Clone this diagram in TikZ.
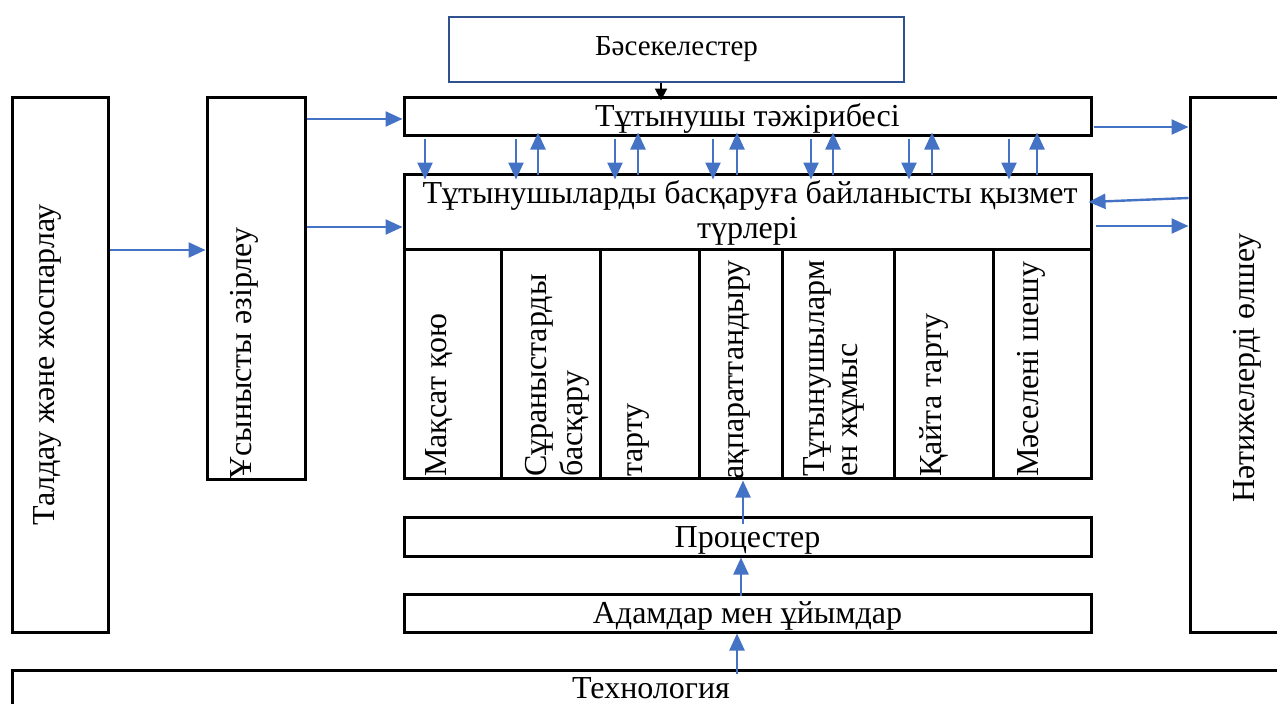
\documentclass[tikz,border=0pt]{standalone}
\usepackage{fontspec}
\setmainfont{Liberation Serif}
\usetikzlibrary{arrows.meta}
\definecolor{ablue}{HTML}{4472C4}
\definecolor{bdark}{HTML}{2F528F}
\begin{document}
\begin{tikzpicture}[x=1pt,y=-1pt,
  box/.style={draw, line width=3pt, inner sep=0pt},
  txt/.style={font=\fontsize{32}{36}\selectfont, inner sep=0pt},
  arr/.style={color=ablue, line width=2.4pt, -{Triangle[length=17pt,width=15pt]}},
  barr/.style={color=black, line width=2pt, -{Triangle[length=12pt,width=12pt]}}]
\useasboundingbox (0,0) rectangle (1277,704);
% boxes
\node[box, draw=bdark, line width=2.4pt, minimum width=455pt, minimum height=65pt] (bsk) at (676.5,49.5) {};
\node[box, minimum width=96pt, minimum height=535pt] (tal) at (60,364.5) {};
\node[box, minimum width=98pt, minimum height=382pt] (usy) at (256,288) {};
\node[box, minimum width=687pt, minimum height=38pt] (tj) at (747.5,116) {};
\node[box, minimum width=687pt, minimum height=75pt] (bq) at (747.5,211.5) {};
\node[box, minimum width=97pt, minimum height=229pt] (k1) at (452.5,363.5) {};
\node[box, minimum width=99pt, minimum height=229pt] (k2) at (550.5,363.5) {};
\node[box, minimum width=99pt, minimum height=229pt] (k3) at (649.5,363.5) {};
\node[box, minimum width=83pt, minimum height=229pt] (k4) at (740.5,363.5) {};
\node[box, minimum width=112pt, minimum height=229pt] (k5) at (838,363.5) {};
\node[box, minimum width=99pt, minimum height=229pt] (k6) at (943.5,363.5) {};
\node[box, minimum width=98pt, minimum height=229pt] (k7) at (1042,363.5) {};
\node[box, minimum width=687pt, minimum height=39pt] (pr) at (747.5,536.5) {};
\node[box, minimum width=687pt, minimum height=38pt] (ad) at (747.5,613) {};
\node[box, minimum width=1288pt, minimum height=70pt] (tech) at (656,705) {};
\node[box, minimum width=110pt, minimum height=535pt] (ntj) at (1245,364.5) {};
% texts
\node[txt, font=\fontsize{29}{33}\selectfont, anchor=base] (bskt) at (676.5,55) {Бәсекелестер};
\node[txt, anchor=base] (tjt) at (747.5,126) {Тұтынушы тәжірибесі};
\node[txt, anchor=base] (bqt1) at (750,203) {Тұтынушыларды басқаруға байланысты қызмет};
\node[txt, anchor=base] (bqt2) at (747.5,238) {түрлері};
\node[txt, anchor=base] (prt) at (747.5,547) {Процестер};
\node[txt, anchor=base] (adt) at (747.5,623) {Адамдар мен ұйымдар};
\node[txt, anchor=base] (techt) at (651,698) {Технология};
\node[txt, rotate=90, anchor=base] (talt) at (54,365) {Талдау және жоспарлау};
\node[txt, rotate=90, anchor=base] (ntjt) at (1254,368) {Нәтижелерді өлшеу};
\node[txt, rotate=90, anchor=base west] (usyt) at (251,480) {Ұсынысты әзірлеу};
\node[txt, rotate=90, anchor=base west] (t1) at (446,477) {Мақсат қою};
\node[txt, rotate=90, anchor=base west] (t2a) at (546,477) {Сұраныстарды};
\node[txt, rotate=90, anchor=base west] (t2b) at (582,477) {басқару};
\node[txt, rotate=90, anchor=base west] (t3) at (642,477) {тарту};
\begin{scope}
\clip (k4.north west) rectangle (k4.south east);
\node[txt, rotate=90, anchor=base east] (t4) at (743,260) {ақпараттандыру};
\end{scope}
\node[txt, rotate=90, anchor=base west] (t5a) at (824,477) {Тұтынушыларм};
\node[txt, rotate=90, anchor=base west] (t5b) at (857,477) {ен жұмыс};
\node[txt, rotate=90, anchor=base west] (t6) at (941,477) {Қайта тарту};
\node[txt, rotate=90, anchor=base west] (t7) at (1038,477) {Мәселені шешу};
% arrow levels
\coordinate (yA) at (0,250);
\coordinate (yB) at (0,119);
\coordinate (yC) at (0,227);
\coordinate (yD) at (0,127);
\coordinate (yE) at (0,226);
\coordinate (yF) at (0,198);
\coordinate (yG) at (0,202);
\draw[arr] (tal.east |- yA) -- (usy.west |- yA);
\draw[arr] (usy.east |- yB) -- (tj.west |- yB);
\draw[arr] (usy.east |- yC) -- (bq.west |- yC);
\draw[arr] ([xshift=1pt]tj.east |- yD) -- (ntj.west |- yD);
\draw[arr] (ntj.west |- yF) -- ([xshift=-4pt]bq.east |- yG);
\draw[arr] ([xshift=3pt]bq.east |- yE) -- (ntj.west |- yE);
\foreach \d in {425,516,615,713,811,909,1009} {
  \coordinate (xd) at (\d,0);
  \draw[arr] ([yshift=-2pt]tj.south -| xd) -- ([yshift=-7pt]bq.north -| xd);
}
\foreach \u in {538,638,737,833,932,1037} {
  \coordinate (xu) at (\u,0);
  \draw[arr] ([yshift=-2pt]bq.north -| xu) -- ([yshift=4pt]tj.south -| xu);
}
\coordinate (xa) at (737,0);
\coordinate (xb) at (741,0);
\coordinate (xc) at (743,0);
\coordinate (xk) at (661,0);
\draw[arr] ([yshift=-5pt]tech.north -| xa) -- (ad.south -| xa);
\draw[arr] ([yshift=-3pt]ad.north -| xb) -- (pr.south -| xb);
\draw[arr] ([yshift=-8pt]pr.north -| xc) -- ([yshift=-1pt]k4.south -| xc);
\draw[barr] (bsk.south -| xk) -- ([yshift=-5pt]tj.north -| xk);
\end{tikzpicture}
\end{document}
